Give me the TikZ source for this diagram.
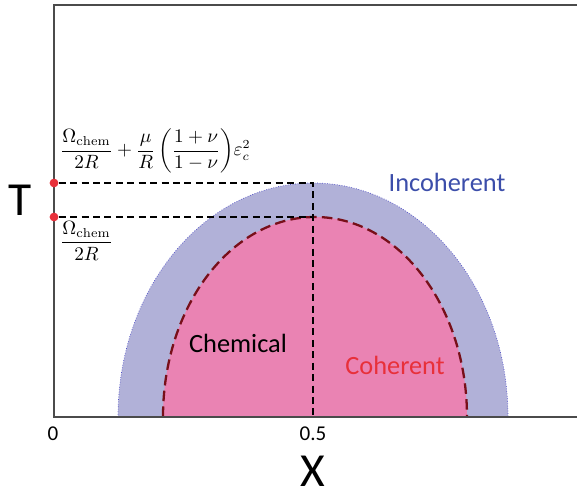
\documentclass[tikz,border=0pt]{standalone}
\usepackage{amsmath,amssymb}
\usepackage{fontspec}
\newfontfamily\labfont{Carlito}
\usetikzlibrary{positioning}
\definecolor{incfill}{RGB}{177,177,216}
\definecolor{incedge}{RGB}{80,80,200}
\definecolor{incblue}{RGB}{60,78,170}
\definecolor{cohfill}{RGB}{234,131,179}
\definecolor{cohedge}{RGB}{120,15,25}
\definecolor{cohred}{RGB}{232,48,58}
\definecolor{axisgray}{RGB}{75,75,75}
\tikzset{
  axis/.style={line width=1.1pt,axisgray},
  guide/.style={dashed,thick,dash pattern=on 4pt off 2.5pt},
  bnd/.style={densely dashed,line width=1.3pt,cohedge,dash pattern=on 6pt off 3pt},
  ibnd/.style={densely dotted,line width=0.4pt,incedge},
  dot/.style={circle,fill=cohred,inner sep=0pt,minimum size=5pt},
  biglab/.style={font=\labfont\fontsize{27}{30}\selectfont},
  ticklab/.style={font=\labfont\fontsize{12}{14}\selectfont},
  reglab/.style={font=\labfont\fontsize{15}{18}\selectfont},
  eqlab/.style={font=\fontsize{10.5}{12}\selectfont,inner sep=0pt}
}
\begin{document}
\begin{tikzpicture}[x=0.02cm,y=0.02cm]
  \useasboundingbox (0,0) rectangle (577,496);
  % regions
  \fill[incfill] (118,79) arc[start angle=180,end angle=0,x radius=195,y radius=234] -- cycle;
  \draw[ibnd] (118,79) arc[start angle=180,end angle=0,x radius=195,y radius=234];
  \fill[cohfill] (163,79) arc[start angle=180,end angle=0,x radius=152,y radius=200] -- cycle;
  \draw[bnd] (163,79) arc[start angle=180,end angle=0,x radius=152,y radius=200];
  % axes
  \draw[axis] (577,491) -- (54,491) -- (54,79) -- (577,79);
  % levels
  \node[dot] (tinc) at (54,313) {};
  \node[dot] (tcoh) at (54,279) {};
  \coordinate (pinc) at (313,313);
  \coordinate (pcoh) at (313,279);
  \coordinate (pbase) at (313,79);
  \draw[guide] (tinc) -- (pinc) -- (pbase);
  \draw[guide] (tcoh) -- (pcoh);
  % labels
  \node[biglab] (tlab) at (20,296) {T};
  \node[biglab] (xlab) at (313,25) {X};
  \node[ticklab] (x0) at (53,62) {0};
  \node[ticklab] (x05) at (313,62) {0.5};
  \node[ticklab] (x1) at (581,62) {1};
  \node[reglab,text=incblue] (inc) at (447,314) {Incoherent};
  \node[reglab] (chem) at (238,153) {Chemical};
  \node[reglab,text=cohred] (coh) at (395,131) {Coherent};
  \node[eqlab,anchor=west] (eqinc) at (60,345)
    {$\dfrac{\Omega_{\mathrm{chem}}}{2R}+\dfrac{\mu}{R}\left(\dfrac{1+\nu}{1-\nu}\right)\!\varepsilon_c^2$};
  \node[eqlab,anchor=west] (eqcoh) at (60,255)
    {$\dfrac{\Omega_{\mathrm{chem}}}{2R}$};
\end{tikzpicture}
\end{document}
